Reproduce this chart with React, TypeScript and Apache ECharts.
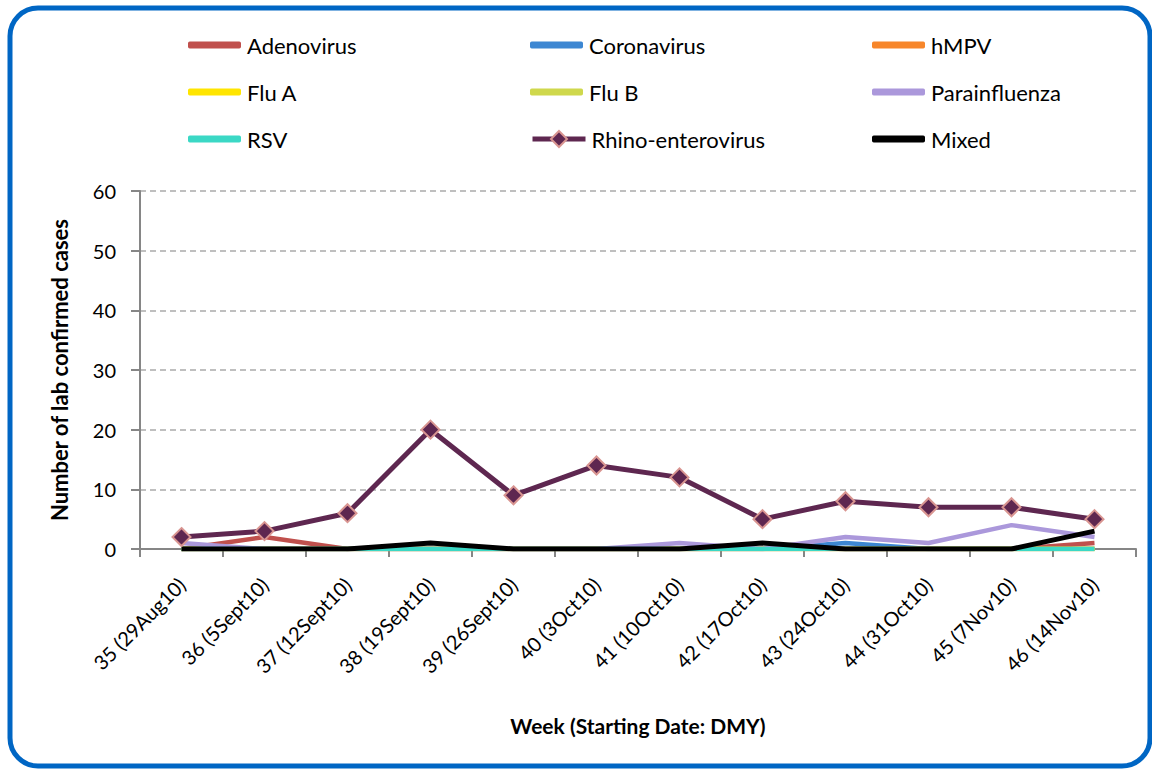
import React, { useEffect, useRef } from "react";
import * as echarts from "echarts";

const weeks = [
  "35 (29Aug10)", "36 (5Sept10)", "37 (12Sept10)", "38 (19Sept10)", "39 (26Sept10)", "40 (3Oct10)",
  "41 (10Oct10)", "42 (17Oct10)", "43 (24Oct10)", "44 (31Oct10)", "45 (7Nov10)", "46 (14Nov10)",
];
const adenovirus = [0, 2, 0, 0, 0, 0, 0, 0, 0, 0, 0, 1];
const coronavirus = [0, 0, 0, 0, 0, 0, 0, 0, 1, 0, 0, 0];
const hmpv = [0, 0, 0, 0, 0, 0, 0, 0, 0, 0, 0, 0];
const fluA = [0, 0, 0, 0, 0, 0, 0, 0, 0, 0, 0, 0];
const fluB = [0, 0, 0, 0, 0, 0, 0, 0, 0, 0, 0, 0];
const parainfluenza = [1, 0, 0, 0, 0, 0, 1, 0, 2, 1, 4, 2];
const rsv = [0, 0, 0, 0, 0, 0, 0, 0, 0, 0, 0, 0];
const rhino = [2, 3, 6, 20, 9, 14, 12, 5, 8, 7, 7, 5];
const mixed = [0, 0, 0, 1, 0, 0, 0, 1, 0, 0, 0, 3];

const legendNames = [
  ["Adenovirus", "Coronavirus", "hMPV"],
  ["Flu A", "Flu B", "Parainfluenza"],
  ["RSV", "Rhino-enterovirus", "Mixed"],
];

const FONT = "Lato";

export default function App() {
  const ref = useRef<HTMLDivElement>(null);
  useEffect(() => {
    const chart = echarts.init(ref.current!, null, { renderer: "svg" });
    const line = (name: string, data: number[], color: string, extra: any = {}) => ({
      name,
      type: "line",
      data,
      symbol: "none",
      lineStyle: { color, width: 4.5 },
      itemStyle: { color },
      ...extra,
    });
    const colLeft = [188, 530, 872];
    const rowCenter = [45, 92, 139];
    const legends: any[] = [];
    legendNames.forEach((row, r) =>
      row.forEach((name, c) => {
        const isRhino = name === "Rhino-enterovirus";
        legends.push({
          left: colLeft[c],
          top: rowCenter[r] - 12,
          padding: 0,
          itemWidth: 53,
          itemHeight: isRhino ? 20 : 7,
          itemGap: 0,
          icon: isRhino ? undefined : "roundRect",
          lineStyle: { width: 5 },
          data: [name],
          textStyle: {
            fontFamily: FONT,
            fontSize: 22,
            lineHeight: 24,
            color: "#000",
            padding: [0, 0, 0, 1],
          },
        });
      })
    );
    chart.setOption({
      animation: false,
      backgroundColor: "#fff",
      graphic: [
        {
          type: "rect",
          shape: { x: 10, y: 8, width: 1140, height: 758, r: 28 },
          style: { fill: "none", stroke: "#0066c4", lineWidth: 5 },
          z: 100,
        },
      ],
      legend: legends,
      grid: { left: 140, right: 16, top: 191, bottom: 220, containLabel: false },
      xAxis: {
        type: "category",
        data: weeks,
        boundaryGap: true,
        name: "Week (Starting Date: DMY)",
        nameLocation: "middle",
        nameGap: 166,
        nameTextStyle: { fontFamily: FONT, fontSize: 21, fontWeight: "bold", color: "#000" },
        axisLine: { lineStyle: { color: "#868686", width: 2 } },
        axisTick: { show: true, length: 8, alignWithLabel: false, lineStyle: { color: "#868686", width: 2 } },
        axisLabel: { rotate: 45, fontFamily: FONT, fontSize: 20, color: "#000", margin: 32, interval: 0 },
      },
      yAxis: {
        type: "value",
        min: 0,
        max: 60,
        interval: 10,
        name: "Number of lab confirmed cases",
        nameLocation: "middle",
        nameGap: 70,
        nameTextStyle: { fontFamily: FONT, fontSize: 22, fontWeight: "bold", color: "#000" },
        axisLine: { show: true, lineStyle: { color: "#868686", width: 2 } },
        axisTick: { show: true, inside: false, length: 9, lineStyle: { color: "#868686", width: 2 } },
        axisLabel: { fontFamily: FONT, fontSize: 20, color: "#000", margin: 24 },
        splitLine: { lineStyle: { color: "#bfbfbf", type: [6, 4], width: 2 } },
      },
      series: [
        line("Adenovirus", adenovirus, "#c0504d"),
        line("Coronavirus", coronavirus, "#3d87d2"),
        line("hMPV", hmpv, "#f7862a"),
        line("Flu A", fluA, "#ffe500"),
        line("Flu B", fluB, "#cfd84c"),
        line("Parainfluenza", parainfluenza, "#ab98db"),
        line("RSV", rsv, "#3bd8c5"),
        line("Rhino-enterovirus", rhino, "#5e2750", {
          symbol: "diamond",
          symbolSize: 18,
          itemStyle: { color: "#5e2750", borderColor: "#d99591", borderWidth: 2 },
          lineStyle: { color: "#5e2750", width: 5 },
        }),
        line("Mixed", mixed, "#000000", { lineStyle: { color: "#000", width: 5 } }),
      ],
    });
    return () => chart.dispose();
  }, []);
  return (
    <div
      ref={ref}
      style={{ position: "absolute", left: 0, top: 0, width: 1152, height: 769 }}
    />
  );
}
